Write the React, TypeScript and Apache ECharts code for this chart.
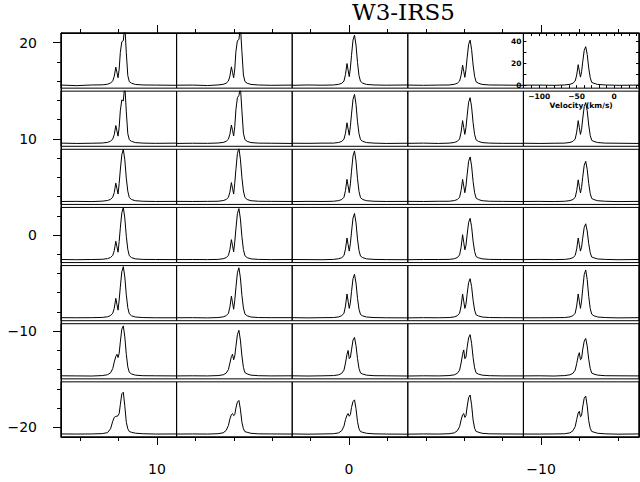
import React, { useEffect, useRef } from "react";
import * as echarts from "echarts";

// Velocity channels (km/s) shared by every spectrum
const VEL = [-121, -100, -80, -66, -59, -55, -52, -50, -48, -46.5, -45, -43.5, -42, -40, -38, -36, -34, -32, -30, -27, -22, -12, 5, 33];

// Map offsets (arcsec) of each panel centre
const ROW_OFFSETS = [18, 12, 6, 0, -6, -12, -18];
const COL_OFFSETS = [12, 6, 0, -6, -12];

// Spectra (K), one row of panels per entry
const ROW1 = [
  [0.3, -0.2, 0.4, 0.5, 1.1, 2.1, 4.2, 8.5, 16.7, 12, 7, 15, 30, 40, 41, 55, 30, 9, 3.5, 2, 0.9, 0.4, 0.3, 0.1],
  [0.2, 0.3, -0.1, 0.4, 1.0, 2, 4, 8.5, 17, 12, 7, 15, 31, 41, 42, 54, 31, 9.5, 3.6, 2, 0.9, 0.4, 0.1, 0.3],
  [0.1, 0.4, 0.2, 0.4, 1.0, 2, 4, 10, 20, 14, 8, 16, 27.5, 41.5, 46, 37, 21, 9, 3.7, 2, 0.9, 0.4, 0.2, 0.4],
  [0.3, 0.1, 0.3, 0.4, 1.0, 2, 4, 9.3, 18.5, 13, 7.4, 14.5, 25, 37.5, 41.5, 33, 18.7, 8.3, 3.3, 2, 0.9, 0.4, 0.3, 0.1],
  [0.2, 0.3, 0.1, 0.4, 1.0, 2, 4, 9.5, 19, 13.3, 7.6, 12.4, 21.3, 32, 35.5, 28.4, 16, 7.1, 2.8, 1.9, 0.9, 0.4, 0.1, 0.3],
];
const ROW2 = [
  [0.4, 0.1, 0.3, 0.5, 1.1, 2.1, 4.2, 8.3, 16.5, 11.6, 6.8, 15, 30, 40, 39, 54, 29, 9, 3.5, 2, 0.9, 0.4, 0.2, 0.4],
  [0.1, 0.3, 0.2, 0.5, 1.0, 2, 4, 8.5, 17, 12, 7, 15.5, 31, 42, 44, 52, 30, 9.5, 3.6, 2, 0.9, 0.4, 0.3, 0.1],
  [0.3, 0.2, 0.4, 0.4, 1.0, 2, 4, 9.5, 19, 13.3, 7.6, 15.8, 27, 40.5, 45, 36, 20, 9, 3.6, 2, 0.9, 0.4, 0.1, 0.3],
  [0.2, 0.4, 0.1, 0.4, 1.0, 2, 4.2, 10.5, 21, 14.7, 8.4, 14.7, 25, 37.8, 42, 33.6, 19, 8.4, 3.4, 2, 0.9, 0.4, 0.2, 0.2],
  [0.3, 0.1, 0.3, 0.4, 1.0, 2, 4.2, 10.5, 21, 14.7, 8.4, 13, 22.5, 33.8, 37.5, 30, 17, 7.5, 3, 1.9, 0.9, 0.4, 0.3, 0.1],
];
const ROW3 = [
  [0.2, 0.3, 0.1, 0.5, 1.1, 2.1, 4.2, 8.5, 17, 12, 7, 16.8, 29, 43, 48, 38.4, 21.6, 9.6, 3.8, 2, 0.9, 0.4, 0.2, 0.3],
  [0.3, 0.2, 0.3, 0.4, 1.0, 2, 4, 8.8, 17.5, 12.3, 7, 17, 29.4, 44, 49, 39, 22, 9.8, 3.9, 2, 0.9, 0.4, 0.3, 0.2],
  [0.1, 0.3, 0.2, 0.4, 1.0, 2, 4.1, 10.3, 20.5, 14.4, 8.2, 16.3, 28, 41.9, 46.5, 37.2, 21, 9.3, 3.7, 2, 0.9, 0.4, 0.2, 0.3],
  [0.3, 0.2, 0.4, 0.4, 1.0, 2, 4.1, 10.3, 20.5, 14.4, 8.2, 14.4, 24.6, 36.9, 41, 32.8, 18.5, 8.2, 3.3, 2, 0.9, 0.4, 0.3, 0.1],
  [0.2, 0.3, 0.1, 0.4, 1.0, 2, 4, 10, 20, 14, 8, 13, 22.2, 33.3, 37, 29.6, 16.7, 7.4, 3, 1.9, 0.9, 0.4, 0.1, 0.3],
];
const ROW4 = [
  [0.3, 0.1, 0.3, 0.5, 1.1, 2.1, 4.2, 8.5, 17, 12, 7, 16.8, 29, 43, 48, 38.4, 21.6, 9.6, 3.8, 2, 0.9, 0.4, 0.3, 0.2],
  [0.2, 0.3, 0.2, 0.4, 1.0, 2, 4, 9.3, 18.5, 13, 7.4, 16.5, 28.2, 42.3, 47, 37.6, 21.2, 9.4, 3.8, 2, 0.9, 0.4, 0.2, 0.3],
  [0.3, 0.2, 0.1, 0.4, 1.0, 2, 4, 10, 20, 14, 8, 14.9, 25.5, 38.3, 42.5, 34, 19, 8.5, 3.4, 2, 0.9, 0.4, 0.2, 0.1],
  [0.1, 0.3, 0.3, 0.4, 1.0, 2.1, 4.5, 11.5, 23, 16, 9.2, 13.3, 22.8, 34.2, 38, 30.4, 17.1, 7.6, 3, 1.9, 0.9, 0.4, 0.3, 0.2],
  [0.2, 0.4, 0.2, 0.4, 1.0, 2, 4, 10, 20, 14, 8, 11.6, 19.8, 29.7, 33, 26.4, 14.9, 6.6, 2.6, 1.8, 0.8, 0.4, 0.1, 0.3],
];
const ROW5 = [
  [0.3, 0.2, 0.3, 0.5, 1.1, 2.2, 4.4, 9, 18, 12.6, 7.2, 16.5, 28.2, 42.3, 47, 37.6, 21.2, 9.4, 3.8, 2, 0.9, 0.4, 0.2, 0.2],
  [0.2, 0.3, 0.1, 0.4, 1.0, 2.1, 4.2, 10, 20, 14, 8, 16.1, 27.6, 41.4, 46, 36.8, 20.7, 9.2, 3.7, 2, 0.9, 0.4, 0.3, 0.3],
  [0.3, 0.1, 0.3, 0.4, 1.0, 2.1, 4.4, 11, 22, 15.4, 8.8, 14, 24, 36, 40, 32, 18, 8, 3.2, 1.9, 0.9, 0.4, 0.2, 0.1],
  [0.1, 0.3, 0.2, 0.4, 1.0, 2.1, 4.4, 11, 22, 15.4, 8.8, 12.6, 21.6, 32.4, 36, 28.8, 16.2, 7.2, 2.9, 1.9, 0.9, 0.4, 0.3, 0.2],
  [0.2, 0.2, 0.3, 0.4, 1.0, 2.1, 4.4, 11, 22, 15.4, 8.8, 15.4, 26.4, 39.6, 44, 35.2, 19.8, 8.8, 3.5, 2, 0.9, 0.4, 0.1, 0.3],
];
const ROW6 = [
  [0.3, 0.2, 0.1, 0.5, 1.3, 3, 7, 13, 18, 20, 17, 21, 31, 43, 46, 36, 20, 8.5, 3.5, 2, 0.9, 0.4, 0.3, 0.2],
  [0.2, 0.3, 0.2, 0.5, 1.2, 2.7, 6, 12, 18, 20, 15, 18.5, 27, 38, 42, 33, 18.5, 8, 3.2, 2, 0.9, 0.4, 0.2, 0.3],
  [0.3, 0.1, 0.3, 0.5, 1.2, 2.6, 5.5, 12, 20, 23.5, 16, 17, 24, 33, 35.5, 28, 16, 7, 2.9, 1.9, 0.9, 0.4, 0.3, 0.1],
  [0.1, 0.3, 0.2, 0.5, 1.2, 2.6, 5.5, 12, 20, 24, 16, 17.5, 26, 35, 38, 30, 17, 7.6, 3, 1.9, 0.9, 0.4, 0.2, 0.2],
  [0.2, 0.3, 0.1, 0.5, 1.2, 2.6, 5.5, 11.5, 18.5, 21.5, 15, 16, 24, 32, 34.5, 27.5, 15.5, 7, 2.8, 1.9, 0.9, 0.4, 0.3, 0.2],
];
const ROW7 = [
  [0.3, 0.2, 0.3, 0.6, 1.5, 5, 12, 15.5, 16.5, 16.5, 17, 19, 27, 37, 38.5, 26, 11, 5, 2.5, 1.8, 1, 0.5, 0.2, 0.3],
  [0.2, 0.3, 0.2, 0.5, 1.3, 3.5, 8, 14, 18, 19, 17, 18, 24, 29.5, 31, 23, 11, 5, 2.4, 1.8, 0.9, 0.4, 0.3, 0.2],
  [0.3, 0.1, 0.3, 0.5, 1.3, 3.3, 7.5, 13.5, 17.5, 19, 16.5, 18, 24.5, 30, 31.5, 23.5, 11.5, 5, 2.4, 1.8, 0.9, 0.4, 0.2, 0.1],
  [0.1, 0.3, 0.2, 0.5, 1.3, 3.2, 7, 13, 18, 19, 15.5, 17, 25, 33.5, 36, 27, 13, 5.5, 2.6, 1.9, 0.9, 0.4, 0.3, 0.2],
  [0.2, 0.2, 0.3, 0.5, 1.3, 3.2, 7, 13.5, 19.5, 21, 16, 17, 25, 33, 35, 26, 12.5, 5.5, 2.6, 1.9, 0.9, 0.4, 0.1, 0.3],
];
const SPECTRA = [ROW1, ROW2, ROW3, ROW4, ROW5, ROW6, ROW7];

// Axis ranges and ticks
const OFFSET_X_RANGE = [-15.1, 15];
const OFFSET_Y_RANGE = [-21, 21];
const X_MAJOR = [-10, 0, 10];
const X_MINOR = [-14, -12, -10, -8, -6, -4, -2, 0, 2, 4, 6, 8, 10, 12, 14];
const Y_MAJOR = [-20, -10, 0, 10, 20];
const Y_MINOR = [-20, -18, -16, -14, -12, -10, -8, -6, -4, -2, 0, 2, 4, 6, 8, 10, 12, 14, 16, 18, 20];
const VEL_RANGE = [-121, 33];
const TEMP_RANGE = [-2.5, 48];
const INSET_X_LABELS = [-100, -50, 0];
const INSET_X_TICKS = [-110, -100, -90, -80, -70, -60, -50, -40, -30, -20, -10, 0, 10, 20, 30];
const INSET_Y_LABELS = [0, 20, 40];
const INSET_Y_TICKS = [0, 10, 20, 30, 40];

const TITLE = "W3-IRS5";

const minus = (v: number) => (v < 0 ? "\u2212" + Math.abs(v) : String(v));

export default function App() {
  const ref = useRef<HTMLDivElement>(null);
  useEffect(() => {
    document.body.style.margin = "0";
    if (!ref.current) return;
    const chart = echarts.init(ref.current, null, { renderer: "svg" });

    const OUT = { left: 61, top: 33, width: 578, height: 404 };
    const nCols = COL_OFFSETS.length;
    const nRows = ROW_OFFSETS.length;
    const gap = 3;
    const cellW = OUT.width / nCols;
    const cellH = (OUT.height - gap * (nRows - 1)) / nRows;

    const black = "#000";
    const grids: any[] = [
      { left: OUT.left, top: OUT.top, width: OUT.width, height: OUT.height, show: true, borderColor: black, borderWidth: 1, backgroundColor: "transparent", outerBoundsMode: "none" },
    ];
    const labelFont = { fontFamily: "DejaVu Sans", fontSize: 14, color: black };
    const mkX = (pos: string, ticks: number[], len: number, label: boolean, line: boolean) => ({
      gridIndex: 0, type: "value", position: pos, min: OFFSET_X_RANGE[0], max: OFFSET_X_RANGE[1], inverse: true,
      axisLine: { show: line, onZero: false, lineStyle: { color: black, width: 1 } },
      axisTick: { show: true, customValues: ticks, length: len, lineStyle: { color: black, width: 1 } },
      axisLabel: label ? { show: true, customValues: X_MAJOR, formatter: minus, margin: 25, ...labelFont } : { show: false },
      splitLine: { show: false },
    });
    const mkY = (pos: string, ticks: number[], len: number, label: boolean, line: boolean) => ({
      gridIndex: 0, type: "value", position: pos, min: OFFSET_Y_RANGE[0], max: OFFSET_Y_RANGE[1],
      axisLine: { show: line, onZero: false, lineStyle: { color: black, width: 1 } },
      axisTick: { show: true, customValues: ticks, length: len, lineStyle: { color: black, width: 1 } },
      axisLabel: label ? { show: true, customValues: Y_MAJOR, formatter: minus, margin: 24, ...labelFont } : { show: false },
      splitLine: { show: false },
    });
    const xAxes: any[] = [
      mkX("bottom", X_MINOR, 4, false, true),
      mkX("bottom", X_MAJOR, 8, true, false),
      mkX("top", X_MINOR, 4, false, true),
      mkX("top", X_MAJOR, 8, false, false),
    ];
    const yAxes: any[] = [
      mkY("left", Y_MINOR, 4, false, true),
      mkY("left", Y_MAJOR, 8, true, false),
      mkY("right", Y_MINOR, 4, false, true),
      mkY("right", Y_MAJOR, 8, false, false),
    ];
    const series: any[] = [];
    const smallFont = { fontFamily: "DejaVu Sans", fontSize: 7.5, fontWeight: "bold", color: black };
    const insetTick = (vals: number[]) => ({ show: true, inside: true, length: 3, customValues: vals, lineStyle: { color: black } });

    ROW_OFFSETS.forEach((_yo, r) => {
      COL_OFFSETS.forEach((_xo, c) => {
        const gi = grids.length;
        grids.push({
          left: OUT.left + c * cellW,
          top: OUT.top + r * (cellH + gap),
          width: cellW,
          height: cellH,
          show: true, borderColor: black, borderWidth: 1, backgroundColor: "transparent", outerBoundsMode: "none",
        });
        const inset = r === 0 && c === nCols - 1;
        const xi = xAxes.length;
        const yi = yAxes.length;
        xAxes.push({
          gridIndex: gi, type: "value", min: VEL_RANGE[0], max: VEL_RANGE[1], position: "bottom",
          axisLine: { show: false, onZero: false },
          axisTick: inset ? insetTick(INSET_X_TICKS) : { show: false },
          axisLabel: inset ? { show: true, customValues: INSET_X_LABELS, formatter: minus, margin: 4, ...smallFont } : { show: false },
          splitLine: { show: false },
          name: inset ? "Velocity (km/s)" : "",
          nameLocation: "middle", nameGap: 13, nameTextStyle: smallFont,
        });
        yAxes.push({
          gridIndex: gi, type: "value", min: TEMP_RANGE[0], max: TEMP_RANGE[1], position: "left",
          axisLine: { show: false, onZero: false },
          axisTick: inset ? insetTick(INSET_Y_TICKS) : { show: false },
          axisLabel: inset ? { show: true, customValues: INSET_Y_LABELS, margin: 2, ...smallFont } : { show: false },
          splitLine: { show: false },
        });
        if (inset) {
          xAxes.push({
            gridIndex: gi, type: "value", min: VEL_RANGE[0], max: VEL_RANGE[1], position: "top",
            axisLine: { show: false, onZero: false },
            axisTick: insetTick(INSET_X_TICKS),
            axisLabel: { show: false }, splitLine: { show: false },
          });
          yAxes.push({
            gridIndex: gi, type: "value", min: TEMP_RANGE[0], max: TEMP_RANGE[1], position: "right",
            axisLine: { show: false, onZero: false },
            axisTick: insetTick(INSET_Y_TICKS),
            axisLabel: { show: false }, splitLine: { show: false },
          });
        }
        series.push({
          type: "line",
          xAxisIndex: xi,
          yAxisIndex: yi,
          data: VEL.map((v, i) => [v, SPECTRA[r][c][i]]),
          showSymbol: false,
          symbol: "none",
          clip: true,
          lineStyle: { color: black, width: 1 },
          silent: true,
        });
      });
    });

    chart.setOption({
      animation: false,
      backgroundColor: "#fff",
      textStyle: { fontFamily: "DejaVu Sans", color: black },
      title: {
        text: TITLE,
        left: 352,
        top: 0,
        padding: 0,
        textStyle: { fontFamily: "DejaVu Serif", fontSize: 23, fontWeight: "normal", color: black },
      },
      grid: grids,
      xAxis: xAxes,
      yAxis: yAxes,
      series,
    });
    return () => chart.dispose();
  }, []);
  return <div ref={ref} style={{ width: 640, height: 482 }} />;
}
